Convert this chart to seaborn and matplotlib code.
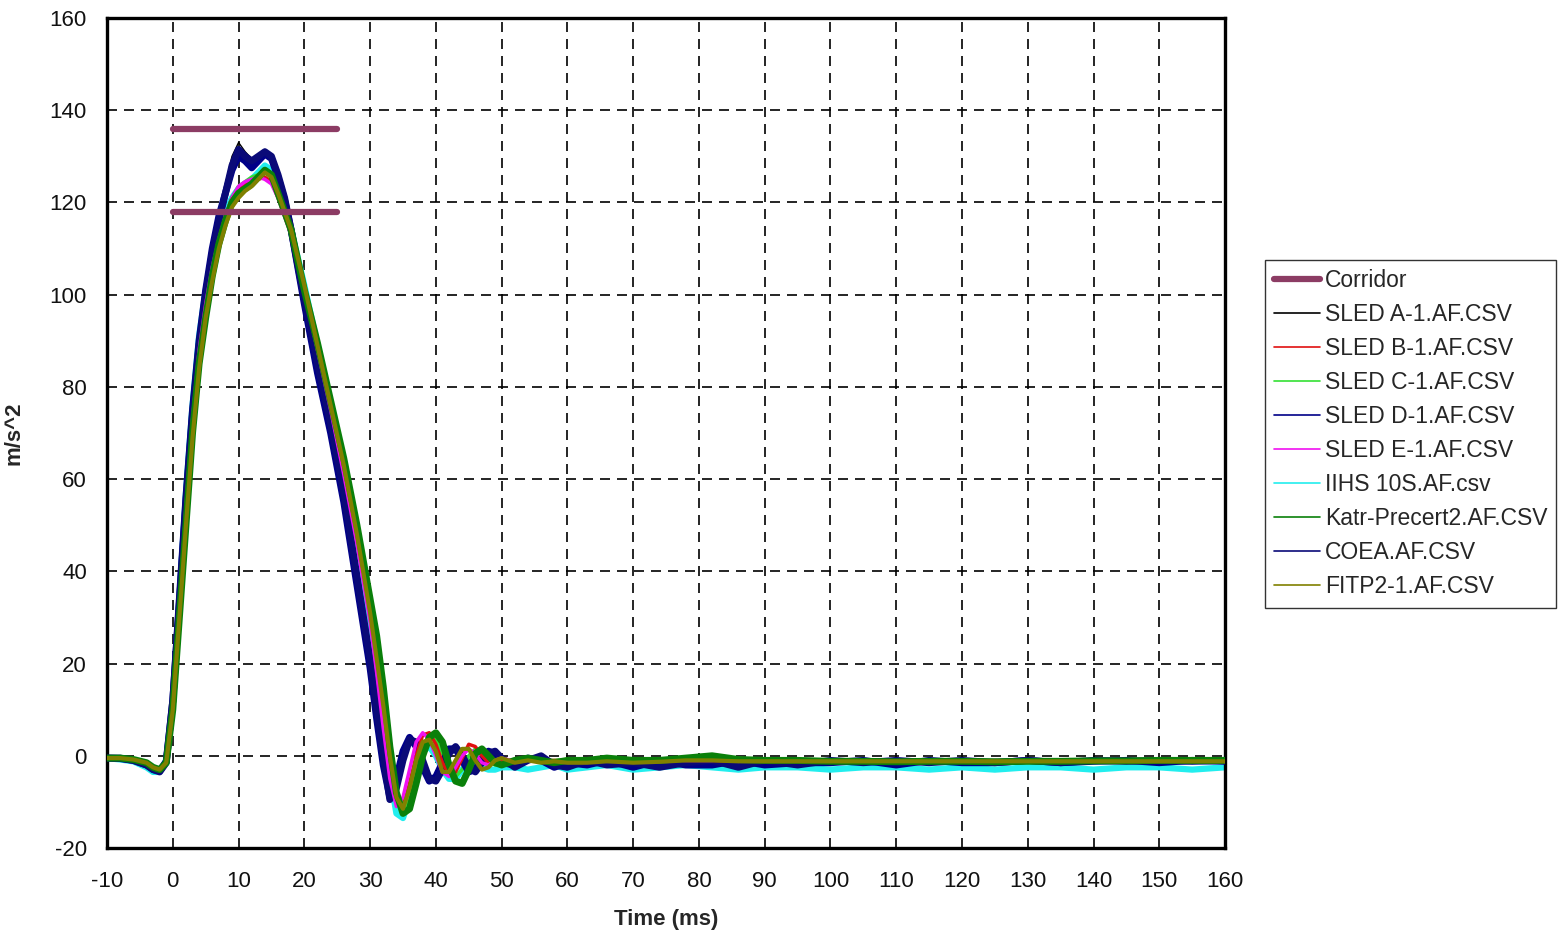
import matplotlib
matplotlib.use("Agg")
import matplotlib.pyplot as plt
import seaborn as sns

# time base (ms) shared by every trace
time_ms = [-10, -8, -6, -4, -3, -2, -1,
           0, 1, 2, 3, 4, 5, 6, 7, 8, 9,
           10, 11, 12, 13, 14, 15, 16, 17, 18,
           20, 22, 24, 26, 28, 30,
           31, 32, 33, 34, 35, 36, 37, 38, 39, 40,
           41, 42, 43, 44, 45, 46, 47, 48, 49, 50,
           52, 54, 56, 58, 60,
           63, 66, 70, 74, 78, 82, 86, 90,
           95, 100, 105, 110, 115, 120, 125, 130, 135, 140, 145, 150, 155, 160]

corridor_t = [0, 25]
corridor_upper = [136, 136]
corridor_lower = [118, 118]

sled_a = [-0.5, -0.5, -0.9, -1.8, -2.8, -3.2, -1.2,
          12, 34, 56, 76, 91, 102, 111, 118, 124, 130,
          133, 131, 129.5, 130.5, 131.5, 130, 126, 121, 115,
          100, 86, 72, 57, 40, 22,
          11, 0, -8.5, -7.5, -2, 3, 3, 0, -4, -5,
          -3, 0, 1.5, 0.5, -2, -3, -1.5, 0, 0.5, -1,
          -1.5, -1, -0.5, -1.5, -1.5,
          -1, -1.5, -1, -1.5, -1, -1, -1.5, -1,
          -1.2, -1, -1.2, -1, -1.2, -1, -1.2, -1, -1.1, -1, -1.1, -1, -1.1, -1]

sled_b = [-0.5, -0.5, -0.8, -1.6, -2.6, -3.0, -1.4,
          11, 31, 52, 71, 86, 97, 105, 112, 117, 121,
          123, 124, 124.5, 125, 125.5, 124.5, 121, 117, 113,
          101, 88, 76, 63, 48, 31,
          21, 10, -1, -10, -11, -6, 0, 4.5, 5, 2.5,
          -1.5, -4, -3.5, -0.5, 2.5, 2, 0, -1.5, -1.5, -1,
          -1, -0.8, -1.2, -1, -1.2,
          -1, -1, -1.2, -0.8, -1, -1, -1.2, -1,
          -1.2, -1, -1, -1.2, -1, -1, -1.2, -1, -1, -1, -1, -1, -1, -1]

sled_c = [-0.5, -0.5, -0.8, -1.6, -2.6, -3.0, -1.4,
          11, 31, 52, 71, 86, 97, 105, 112, 117, 121,
          123.5, 124.5, 125.5, 126, 127, 126, 122, 118, 114,
          101, 89, 76, 63, 49, 32,
          22, 11, 0, -9, -12, -9, -3, 2, 4, 3.5,
          0.5, -3, -4.5, -3, 0, 1.5, 0.5, -1, -2, -1.5,
          -1, -0.5, -1, -1, -0.8,
          -1, -0.8, -1, -0.8, -0.5, -0.5, -1, -1,
          -1, -1, -1, -1, -1, -1, -1, -1, -1, -1, -1, -1, -1, -1]

sled_d = [-0.5, -0.6, -1, -2, -3, -3.3, -1.2,
          12, 34, 56, 75, 90, 101, 110, 117, 122, 127,
          130, 129, 127.5, 129, 130.5, 129.5, 125.5, 120.5, 114,
          98, 83, 70, 55, 37, 19,
          8, -2, -9, -5, 1, 4, 2, -2.5, -5.5, -4.5,
          -1.5, 1.5, 1.5, -1, -3.5, -3, -0.5, 1, 0.5, -1.5,
          -2, -0.5, -1, -2.5, -1.5,
          -2, -1, -2.5, -1, -2, -2, -1, -2,
          -1.5, -1.5, -1, -2, -1, -1.5, -1.5, -1, -1.5, -1.2, -1, -1.5, -1, -1.2]

sled_e = [-0.5, -0.5, -0.8, -1.6, -2.6, -3.0, -1.5,
          11, 32, 54, 73, 88, 98, 106, 112, 117, 121,
          123.5, 124.5, 125, 125.5, 125, 124, 121, 117, 113,
          101, 88, 75, 61, 46, 29,
          18, 6, -5, -11, -9, -3, 3, 5, 3.5, 0,
          -3.5, -4.5, -2.5, 0, 1.5, 0.5, -1.5, -2, -1, -0.5,
          -1.2, -0.8, -1, -1.5, -1,
          -1, -1.2, -1, -0.8, -1, -1, -0.5, -1,
          -1, -1.2, -1, -1.2, -1, -1.2, -1, -1.2, -1, -1.2, -1, -1.2, -1, -1.2]

iihs_10s = [-0.5, -0.8, -1.2, -2.5, -3.5, -3.5, -1,
            12, 34, 57, 76, 91, 101, 108, 114, 118, 121,
            123, 124, 125, 126.5, 128, 127, 123, 119, 114,
            102, 89, 75, 62, 46, 29,
            18, 7, -4, -12.5, -13.5, -9, -3, 1, 2, 0,
            -3, -5, -5, -3, -1.5, -1.5, -2.5, -3, -3, -2.5,
            -2.5, -3, -2.5, -2, -3,
            -2.5, -2, -3, -2.5, -2, -2.5, -3, -2.5,
            -2.5, -3, -2.5, -2.5, -3, -2.5, -3, -2.5, -2.5, -3, -2.5, -2.5, -3, -2.5]

katr = [-0.5, -0.5, -0.8, -1.5, -2.5, -3.0, -1.5,
        10, 30, 50, 70, 85, 95, 104, 111, 116, 120,
        122, 123, 124, 125.5, 127, 126, 122, 118, 114,
        101, 89.5, 77, 64.5, 50, 34,
        26, 15, 2, -8, -12.5, -11.5, -6, 0, 4, 5,
        3, -2, -5.5, -6, -3, 0.5, 1.5, 0, -1.5, -2,
        -1, -0.5, -1, -1.5, -1,
        -1, -0.5, -1, -1, -0.5, 0, -0.8, -1,
        -1, -1.2, -1.2, -1.3, -1.2, -1.2, -1.3, -1.2, -1.2, -1.1, -1.1, -1.0, -1.0, -1.0]

coea = [-0.5, -0.5, -1, -2, -3, -3.5, -1.5,
        12, 33, 55, 74, 89, 100, 109, 116, 122, 128,
        131.5, 130, 129, 130, 131, 130, 126, 121, 114,
        99, 85, 72, 57, 39, 21,
        10, 0, -9.5, -7, -1, 3.5, 3, -1, -5, -5.5,
        -3, 0.5, 2, 0, -2.5, -3.5, -1.5, 0.5, 1, -0.5,
        -2.5, -1, 0, -2, -2.5,
        -1, -2, -1.5, -2.5, -1.5, -1, -2.5, -1,
        -2, -1, -1.5, -1, -1.5, -1, -1.5, -1, -1.5, -1, -1.2, -1, -1.2, -1]

fitp2 = [-0.5, -0.5, -0.8, -1.5, -2.5, -3.0, -1.5,
         10, 30, 50, 69, 84, 95, 103, 110, 115, 119,
         121, 122.5, 123.5, 125, 126.5, 125.5, 122, 118, 114,
         102, 89, 76, 63, 48, 31,
         21, 11, 0, -9, -11.5, -7, -1, 3, 3.5, 1,
         -3.5, -3.5, -1, 1.5, 1.5, -1, -3, -2.5, -1, -0.5,
         -1.5, -1, -1.5, -1.2, -1.5,
         -1.5, -1.2, -1.5, -1.3, -1, -1, -1.2, -1.2,
         -1.2, -1.2, -1.2, -1.2, -1.2, -1.2, -1.2, -1.2, -1.2, -1.2, -1.2, -1.2, -1.2, -1.2]

# (label, values, colour, width, zorder) in legend order
traces = [
    ("SLED A-1.AF.CSV", sled_a, "#000000", 1.0, 3),
    ("SLED B-1.AF.CSV", sled_b, "#E01010", 2.5, 5),
    ("SLED C-1.AF.CSV", sled_c, "#33E033", 2.5, 3),
    ("SLED D-1.AF.CSV", sled_d, "#000088", 5.0, 4),
    ("SLED E-1.AF.CSV", sled_e, "#F010F0", 2.5, 5),
    ("IIHS 10S.AF.csv", iihs_10s, "#22EEEE", 4.5, 2),
    ("Katr-Precert2.AF.CSV", katr, "#0A800A", 5.0, 6),
    ("COEA.AF.CSV", coea, "#0A0A78", 5.0, 4),
    ("FITP2-1.AF.CSV", fitp2, "#808000", 3.0, 7),
]

sns.set_theme(style="white")
plt.rcParams["font.family"] = ["Liberation Sans", "DejaVu Sans"]
plt.rcParams["axes.unicode_minus"] = False

fig = plt.figure(figsize=(15.58, 9.36), dpi=100)
ax = fig.add_axes([0.0687, 0.094, 0.7176, 0.8868])

corridor_color = "#8C3C64"
sns.lineplot(x=corridor_t, y=corridor_upper, ax=ax, color=corridor_color,
             linewidth=4.5, solid_capstyle="round", zorder=8, label="Corridor")
sns.lineplot(x=corridor_t, y=corridor_lower, ax=ax, color=corridor_color,
             linewidth=4.5, solid_capstyle="round", zorder=8)

for label, vals, color, lw, z in traces:
    sns.lineplot(x=time_ms, y=vals, ax=ax, color=color, linewidth=lw,
                 zorder=z, label=label)

ax.set_xlim(-10, 160)
ax.set_ylim(-20, 160)
ax.set_xticks(range(-10, 161, 10))
ax.set_yticks(range(-20, 161, 20))
ax.grid(True, color="black", linestyle=(0, (6, 4.2)), linewidth=1.2)
ax.set_axisbelow(True)
for sp in ax.spines.values():
    sp.set_color("black")
    sp.set_linewidth(2.4)
ax.tick_params(axis="both", direction="inout", length=9, width=1,
               colors="black", labelsize=16, labelcolor="#111111")
ax.tick_params(axis="x", pad=12)
ax.tick_params(axis="y", pad=10)

ax.set_xlabel("Time (ms)", fontsize=16, fontweight="bold", labelpad=12)
ax.set_ylabel("m/s^2", fontsize=16, fontweight="bold", labelpad=18)

handles, labels = ax.get_legend_handles_labels()
leg = ax.legend(handles, labels, loc="upper left", bbox_to_anchor=(0.812, 0.722),
                bbox_transform=fig.transFigure, frameon=True, fancybox=False,
                edgecolor="black", fontsize=16.5, borderaxespad=0,
                handlelength=2.0, handletextpad=0.2, labelspacing=0.48,
                borderpad=0.4)
leg.get_frame().set_linewidth(1.0)
for i, ln in enumerate(leg.get_lines()):
    ln.set_linewidth(4.5 if i == 0 else 1.2)

fig.savefig("out.png", dpi=100)
